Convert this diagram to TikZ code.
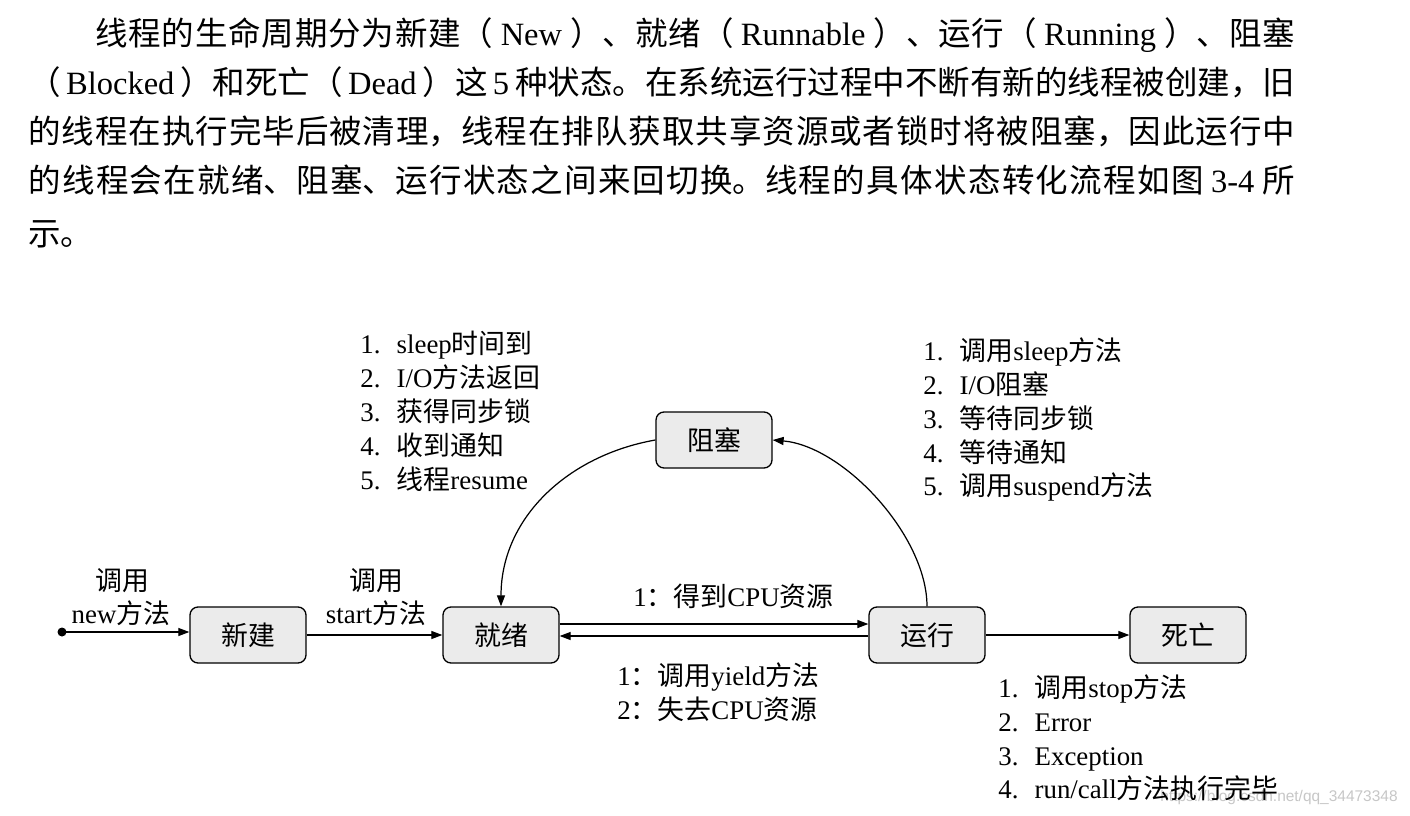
\documentclass[tikz,border=0pt]{standalone}
\usepackage{fontspec}
\setmainfont{Liberation Serif}
\newfontfamily\cjk{Noto Sans CJK SC}
\newfontfamily\wmfont{Liberation Sans}
\usetikzlibrary{arrows.meta}

% ------ passage automatique latin / chinois -----------------------------
\newcount\cjkcode
\cjkcode="4E00
\loop \XeTeXcharclass\cjkcode=1 \advance\cjkcode by 1 \ifnum\cjkcode<"A000 \repeat
\XeTeXcharclass"FF08=2
\XeTeXcharclass"FF09=3 \XeTeXcharclass"3001=3 \XeTeXcharclass"3002=3
\XeTeXcharclass"FF0C=3 \XeTeXcharclass"FF1A=3
\XeTeXinterchartokenstate=1
\XeTeXinterchartoks 0 1 = {\cjk}    \XeTeXinterchartoks 4095 1 = {\cjk}
\XeTeXinterchartoks 0 2 = {\cjk}    \XeTeXinterchartoks 4095 2 = {\cjk}
\XeTeXinterchartoks 0 3 = {\cjk}    \XeTeXinterchartoks 4095 3 = {\cjk}
\XeTeXinterchartoks 1 0 = {\rmfamily} \XeTeXinterchartoks 2 0 = {\rmfamily}
\XeTeXinterchartoks 3 0 = {\rmfamily} \XeTeXinterchartoks 4095 0 = {\rmfamily}

\newcommand\grandtexte{\fontsize{18.5}{22}\selectfont}
\newcommand\petittexte{\fontsize{15.3}{18}\selectfont}
\newcommand\ligne[2]{\hbox to #1{\XeTeXinterchartoks 1 1 = {\hskip 0pt plus 1fil}#2}}

\begin{document}
\begin{tikzpicture}  % ------ cycle de vie d'un thread -----------------------------
      [x=0.02cm, y=-0.02cm,
       etat/.style={draw, line width=0.75pt, rounded corners=0.16cm, fill=black!8,
                    minimum width=2.32cm, minimum height=1.12cm, font=\petittexte},
       txt/.style={inner sep=0pt, anchor=west, font=\petittexte, text height=13pt, text depth=3pt},
       para/.style={inner sep=0pt, anchor=west, font=\grandtexte, text height=15.7pt, text depth=3.7pt},
       fleche/.style={-{Triangle[length=0.22cm,width=0.16cm]}, line width=0.7pt}]

    \fill[white] (0,0) rectangle (1410,815);
    \useasboundingbox (0,0) rectangle (1410,815);

    % le texte
    \node[para] (p1) at (95,35)  {\ligne{24cm}{线程的生命周期分为新建（ New ）、就绪（ Runnable ）、运行（ Running ）、阻塞}};
    \node[para] (p2) at (28,84)  {\ligne{25.34cm}{（ Blocked ）和死亡（ Dead ）这 5 种状态。在系统运行过程中不断有新的线程被创建，旧}};
    \node[para] (p3) at (28,133) {\ligne{25.34cm}{的线程在执行完毕后被清理，线程在排队获取共享资源或者锁时将被阻塞，因此运行中}};
    \node[para] (p4) at (28,182) {\ligne{25.34cm}{的线程会在就绪、阻塞、运行状态之间来回切换。线程的具体状态转化流程如图 3-4 所}};
    \node[para] (p5) at (28,235) {示。};

    \node[anchor=west, inner sep=0pt, text=black!22, font=\wmfont\fontsize{8.8}{10}\selectfont]
        (wm) at (1160,797) {\XeTeXinterchartokenstate=0 https://blog.csdn.net/qq\_34473348};

    % les etats
    \node[etat] (New)   at (248,635)  {新建};
    \node[etat] (Ready) at (501,635)  {就绪};
    \node[etat] (Block) at (714,440)  {阻塞};
    \node[etat] (Run)   at (927,635)  {运行};
    \node[etat] (Dead)  at (1188,635) {死亡};
    \coordinate (S) at (62,632);

    \fill (S) circle (0.09cm);
    \draw [fleche] (S) -- (New.west |- S);
    \draw [fleche] (New) -- (Ready);
    \draw [fleche] ([yshift=0.22cm]Ready.east) -- ([yshift=0.22cm]Run.west);
    \draw [fleche] ([yshift=-0.02cm]Run.west) -- ([yshift=-0.02cm]Ready.east);
    \draw [fleche] (Run) -- (Dead);
    \draw [fleche] (Run.north) to[out=90,in=-5,looseness=0.8] (Block.east);
    \draw [fleche] (Block.west) to[out=190,in=90] (Ready.north);

    % les etiquettes
    \node[txt, anchor=center] (n1) at (122,582) {调用};
    \node[txt, anchor=center] (n2) at (121,615) {new方法};
    \node[txt, anchor=center] (s1) at (376,582) {调用};
    \node[txt, anchor=center] (s2) at (376,615) {start方法};
    \node[txt] (cpu) at (633,598) {1：得到CPU资源};
    \node[txt] (y1)  at (617,677) {1：调用yield方法};
    \node[txt] (y2)  at (617,711) {2：失去CPU资源};

    \foreach \t [count=\i] in {sleep时间到, I/O方法返回, 获得同步锁, 收到通知, 线程resume}
      \node[txt] (reveil\i) at (360,{345+34*(\i-1)}) {\i.\hspace{0.6em}\t};
    \foreach \t [count=\i] in {调用sleep方法, I/O阻塞, 等待同步锁, 等待通知, 调用suspend方法}
      \node[txt] (bloc\i) at (923,{352+33.8*(\i-1)}) {\i.\hspace{0.6em}\t};
    \foreach \t [count=\i] in {调用stop方法, Error, Exception, run/call方法执行完毕}
      \node[txt] (fin\i) at (998,{689+33.7*(\i-1)}) {\i.\hspace{0.6em}\t};

\end{tikzpicture}
\end{document}
